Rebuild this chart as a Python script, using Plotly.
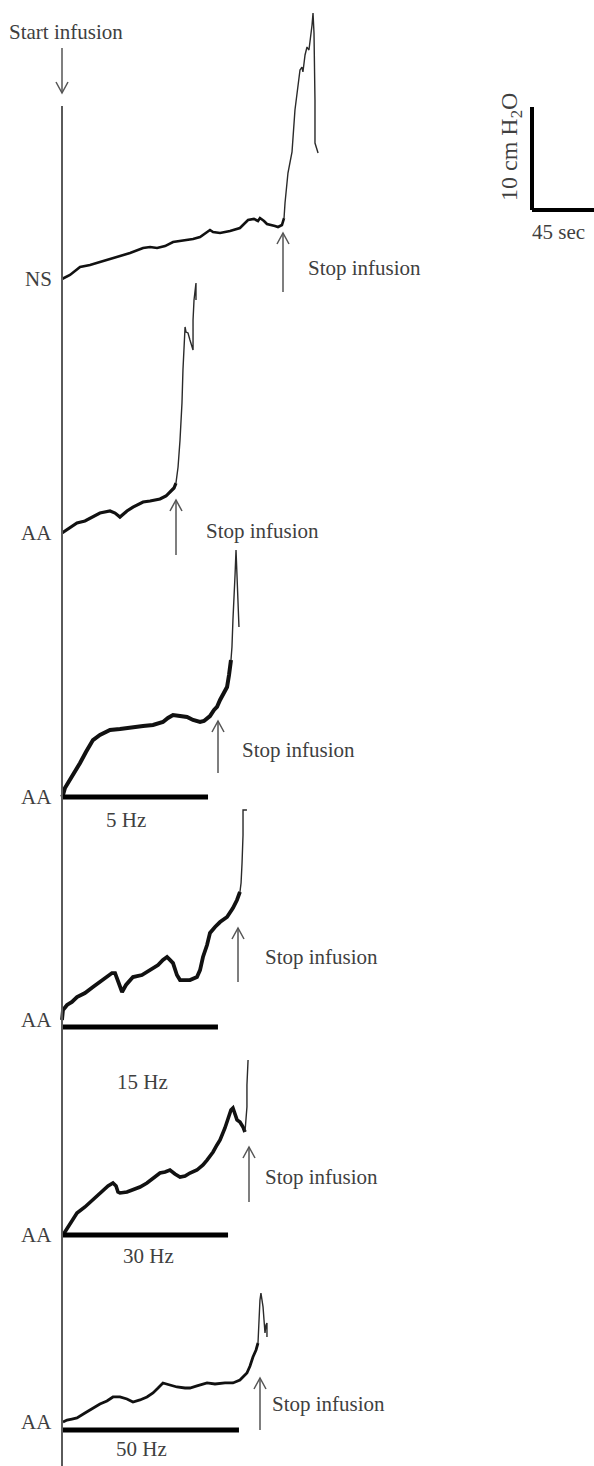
import plotly.graph_objects as go

# ---------------- data (time in s, pressure in cm H2O above each baseline) -------------
labels = ["NS", "AA", "AA", "AA", "AA", "AA"]
stim_labels = [None, None, "5 Hz", "15 Hz", "30 Hz", "50 Hz"]
stim_end_s = [None, None, 104.3, 111.4, 118.6, 126.4]

ns_t = [0, 5.7, 12.9, 20.0, 27.1, 39.3, 48.6, 57.9, 62.9, 67.9, 73.6, 79.3, 87.9, 93.6, 98.6,
        104.3, 105.7, 107.9, 112.9, 120.0, 127.1, 132.9, 137.1, 140.0, 141.4, 144.3, 146.4,
        152.1, 154.3, 157.1, 158.6]
ns_p = [0, 0.39, 1.17, 1.36, 1.65, 2.14, 2.52, 3.01, 3.11, 3.01, 3.20, 3.59, 3.79, 3.88, 4.08,
        4.56, 4.76, 4.56, 4.47, 4.66, 4.95, 5.73, 5.83, 5.63, 5.92, 5.63, 5.34, 5.15, 5.05,
        5.24, 5.92]
ns_spike_t = [158.6, 159.3, 161.4, 162.9, 164.3, 166.4, 168.6, 170.0, 171.4, 172.1, 173.6, 175.0,
              176.4, 177.1, 178.6, 179.3, 180.0, 180.7, 180.7, 182.9]
ns_spike_p = [5.92, 7.38, 10.29, 11.55, 12.33, 16.41, 18.83, 20.29, 20.58, 20.10, 21.75, 22.52,
              22.23, 22.91, 24.66, 25.83, 23.88, 17.38, 13.20, 12.23]

aa1_t = [0, 5.7, 10.7, 16.4, 21.4, 27.1, 34.3, 37.9, 41.4, 46.4, 50.7, 57.9, 62.9, 70.0, 74.3,
         77.1, 80.0, 81.4]
aa1_p = [0, 0.49, 0.97, 1.17, 1.55, 1.94, 2.14, 1.94, 1.55, 2.14, 2.52, 3.01, 3.11, 3.30, 3.59,
         3.98, 4.37, 4.85]
aa1_spike_t = [81.4, 82.9, 84.3, 85.7, 86.4, 87.1, 87.9, 88.6, 90.0, 91.4, 93.6, 93.6, 94.3, 95.7, 95.7]
aa1_spike_p = [4.85, 6.41, 9.03, 12.62, 15.83, 18.74, 20.00, 19.51, 19.42, 18.74, 17.77, 20.68,
               22.62, 24.27, 22.62]

aa2_t = [0, 0.7, 2.1, 5.7, 9.3, 12.9, 17.1, 22.1, 27.1, 34.3, 41.4, 50.7, 57.9, 65.0, 68.6, 72.1,
         75.7, 79.3, 84.3, 89.3, 93.6, 98.6, 101.4, 103.6, 105.7, 108.6, 110.7, 112.9, 115.7,
         117.9, 119.3, 120.7]
aa2_p = [0, 0.19, 0.87, 1.65, 2.43, 3.30, 4.37, 5.53, 6.02, 6.50, 6.60, 6.80, 6.89, 6.99, 7.18,
         7.28, 7.67, 7.96, 7.86, 7.77, 7.48, 7.28, 7.38, 7.67, 7.86, 8.45, 8.74, 9.42, 10.19,
         10.68, 11.84, 13.30]
aa2_spike_t = [120.7, 121.4, 122.1, 122.9, 123.6, 124.3, 125.0, 125.0, 125.7, 126.4]
aa2_spike_p = [13.30, 14.56, 17.18, 19.13, 21.55, 23.98, 21.55, 20.10, 19.13, 16.50]

aa3_t = [0, 0.7, 3.6, 7.1, 10.7, 16.4, 22.1, 27.1, 32.1, 35.7, 37.9, 40.0, 42.9, 45.7, 50.7, 57.1,
         62.9, 68.6, 72.1, 75.0, 77.1, 79.3, 82.1, 84.3, 91.4, 96.4, 98.6, 100.7, 103.6, 105.7,
         109.3, 112.9, 117.9, 122.1, 125.0, 127.1]
aa3_p = [0, 0.97, 1.46, 1.75, 2.23, 2.62, 3.20, 3.69, 4.17, 4.56, 4.56, 3.88, 2.72, 3.40, 4.17,
         4.37, 4.85, 5.34, 5.83, 6.12, 5.83, 5.53, 4.37, 3.88, 3.88, 4.17, 4.85, 6.12, 7.28, 8.45,
         9.03, 9.51, 10.00, 10.87, 11.65, 12.43]
aa3_spike_t = [127.1, 127.9, 128.6, 129.3, 129.3, 132.1]
aa3_spike_p = [12.43, 13.30, 15.24, 17.96, 20.39, 20.39]

aa4_t = [0.7, 2.1, 3.6, 7.1, 10.7, 16.4, 22.1, 25.7, 29.3, 32.9, 36.4, 38.6, 40.0, 41.4, 46.4,
         50.7, 55.7, 60.7, 65.0, 70.0, 73.6, 77.1, 80.7, 84.3, 87.9, 91.4, 96.4, 100.7, 103.6,
         107.9, 110.7, 112.9, 116.4, 118.6, 120.0, 120.7, 122.1, 123.6, 125.0, 127.1, 129.3, 130.7]
aa4_p = [0, 0.29, 0.68, 1.46, 2.14, 2.72, 3.40, 3.88, 4.37, 4.76, 5.05, 4.76, 4.17, 4.08, 4.17,
         4.37, 4.66, 5.05, 5.53, 6.02, 6.12, 6.31, 5.92, 5.63, 5.73, 6.02, 6.31, 6.80, 7.28, 8.06,
         8.74, 9.22, 10.39, 11.36, 11.84, 12.14, 12.33, 11.65, 11.17, 10.97, 10.49, 10.00]
aa4_spike_t = [130.7, 131.4, 132.1, 132.1, 132.9]
aa4_spike_p = [10.00, 11.17, 12.43, 14.56, 16.99]

aa5_t = [0.7, 3.6, 7.1, 10.7, 16.4, 22.1, 27.1, 32.1, 36.4, 41.4, 46.4, 50.7, 55.7, 60.7, 65.0,
         68.6, 72.1, 77.1, 82.1, 87.9, 91.4, 96.4, 103.6, 109.3, 116.4, 122.1, 127.1, 132.1,
         134.3, 136.4, 138.6, 140.0]
aa5_p = [0, 0.19, 0.29, 0.39, 0.87, 1.36, 1.75, 2.04, 2.43, 2.43, 2.23, 1.94, 2.14, 2.43, 2.82,
         3.30, 3.79, 3.59, 3.40, 3.30, 3.30, 3.50, 3.79, 3.69, 3.79, 3.79, 4.08, 4.76, 5.44, 6.31,
         6.99, 7.67]
aa5_spike_t = [140.0, 140.7, 141.4, 142.1, 142.9, 143.6, 144.3, 145.0, 145.7, 146.4, 146.4]
aa5_spike_p = [7.67, 9.90, 11.84, 12.52, 11.84, 11.17, 9.90, 8.64, 9.42, 9.61, 8.25]

slow_t = [ns_t, aa1_t, aa2_t, aa3_t, aa4_t, aa5_t]
slow_p = [ns_p, aa1_p, aa2_p, aa3_p, aa4_p, aa5_p]
spike_t = [ns_spike_t, aa1_spike_t, aa2_spike_t, aa3_spike_t, aa4_spike_t, aa5_spike_t]
spike_p = [ns_spike_p, aa1_spike_p, aa2_spike_p, aa3_spike_p, aa4_spike_p, aa5_spike_p]

scale_sec = 45
scale_cm = 10

# ---------------- layout (page pixels) ----------------
W, H = 594, 1466
X0 = 62                 # start-of-infusion line
PX_PER_S = 63 / 45
PX_PER_CM = 103 / 10
baselines = [279, 533, 797, 1020, 1235, 1422]
bar_offsets = [None, None, 0, 7, 0, 8]
bar_label_xy = [None, None, (126, 820), (142, 1082), (148, 1256), (141, 1449)]
slow_width = [2.6, 3.2, 4.0, 3.8, 3.6, 2.8]
stop_arrows = [(283, 233, 292, 306, 268), (176, 500, 555, 204, 531), (218, 721, 773, 240, 750),
               (238, 928, 982, 263, 957), (249, 1147, 1202, 263, 1177), (260, 1378, 1430, 270, 1404)]

FONT = "Liberation Serif"
TXT = "#3f3f3f"
FS = 21


def px_x(ts):
    return [X0 + PX_PER_S * t for t in ts]


def px_y(base, ps):
    return [base - PX_PER_CM * p for p in ps]


fig = go.Figure()
shapes = []
annotations = []

for i in range(6):
    b = baselines[i]
    fig.add_trace(go.Scatter(x=px_x(slow_t[i]), y=px_y(b, slow_p[i]), mode="lines",
                             line=dict(color="#111111", width=slow_width[i]), hoverinfo="skip"))
    fig.add_trace(go.Scatter(x=px_x(spike_t[i]), y=px_y(b, spike_p[i]), mode="lines",
                             line=dict(color="#2a2a2a", width=1.4), hoverinfo="skip"))
    annotations.append(dict(x=54, y=b, text=labels[i], showarrow=False, xanchor="right",
                            yanchor="middle", font=dict(family=FONT, size=FS, color=TXT)))
    if stim_end_s[i] is not None:
        yb = b + bar_offsets[i]
        fig.add_trace(go.Scatter(x=px_x([0, stim_end_s[i]]), y=[yb, yb], mode="lines",
                                 line=dict(color="#000000", width=5), hoverinfo="skip"))
        lx, ly = bar_label_xy[i]
        annotations.append(dict(x=lx, y=ly, text=stim_labels[i], showarrow=False,
                                xanchor="center", yanchor="middle",
                                font=dict(family=FONT, size=FS, color=TXT)))
    ax, yh, yt, tx, ty = stop_arrows[i]
    shapes.append(dict(type="line", x0=ax, x1=ax, y0=yh, y1=yt, line=dict(color="#555555", width=1.5)))
    shapes.append(dict(type="path", path=f"M {ax-6},{yh+11} L {ax},{yh} L {ax+6},{yh+11}",
                       line=dict(color="#555555", width=1.5)))
    annotations.append(dict(x=tx, y=ty, text="Stop infusion", showarrow=False, xanchor="left",
                            yanchor="middle", font=dict(family=FONT, size=FS, color=TXT)))

# start infusion line & arrow
shapes.append(dict(type="line", x0=X0, x1=X0, y0=106, y1=H + 5, line=dict(color="#5a5a5a", width=2)))
shapes.append(dict(type="line", x0=X0, x1=X0, y0=48, y1=93, line=dict(color="#555555", width=1.5)))
shapes.append(dict(type="path", path=f"M {X0-6},{82} L {X0},{93} L {X0+6},{82}",
                   line=dict(color="#555555", width=1.5)))
annotations.append(dict(x=66, y=32, text="Start infusion", showarrow=False, xanchor="center",
                        yanchor="middle", font=dict(family=FONT, size=FS, color=TXT)))

# scale bar
sx, sy = 532, 210
shapes.append(dict(type="line", x0=sx, x1=sx, y0=sy - PX_PER_CM * scale_cm, y1=sy,
                   line=dict(color="#000000", width=4)))
shapes.append(dict(type="line", x0=sx, x1=sx + PX_PER_S * scale_sec, y0=sy, y1=sy,
                   line=dict(color="#000000", width=4)))
annotations.append(dict(x=511, y=147, text=f"{scale_cm} cm H<sub>2</sub>O", showarrow=False,
                        textangle=-90, xanchor="center", yanchor="middle",
                        font=dict(family=FONT, size=24, color=TXT)))
annotations.append(dict(x=558, y=232, text=f"{scale_sec} sec", showarrow=False, xanchor="center",
                        yanchor="middle", font=dict(family=FONT, size=FS, color=TXT)))

fig.update_layout(
    width=W, height=H, margin=dict(l=0, r=0, t=0, b=0),
    paper_bgcolor="white", plot_bgcolor="white", showlegend=False,
    xaxis=dict(range=[0, W], visible=False, fixedrange=True),
    yaxis=dict(range=[H, 0], visible=False, fixedrange=True),
    shapes=shapes, annotations=annotations,
)

fig.write_html("out.html", config={"displayModeBar": False},
               post_script="document.body.style.margin='0';document.body.style.padding='0';")
